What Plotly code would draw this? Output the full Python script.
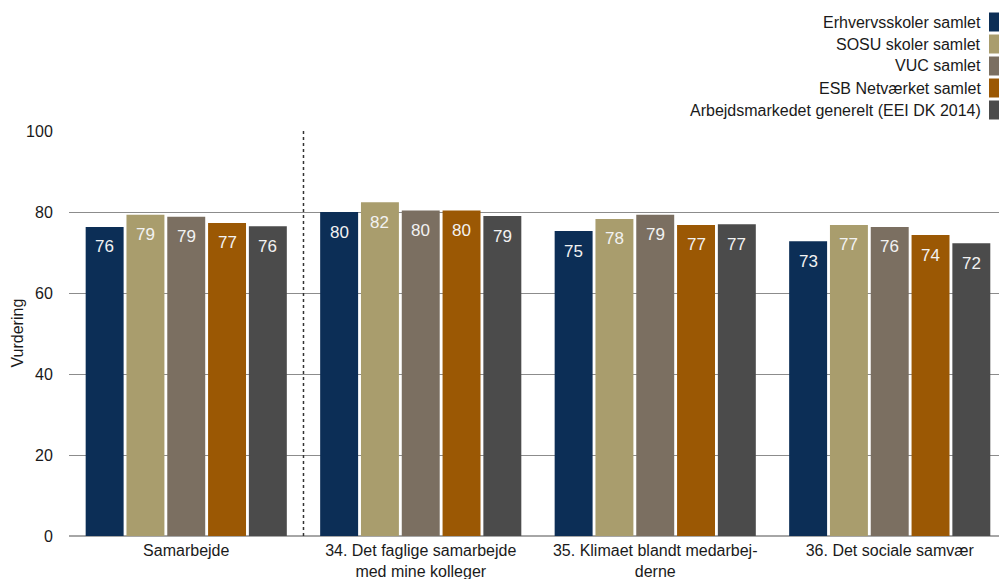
import plotly.graph_objects as go

categories = ["Samarbejde", "34. Det faglige samarbejde<br>med mine kolleger",
              "35. Klimaet blandt medarbej-<br>derne", "36. Det sociale samvær"]
series_names = ["Erhvervsskoler samlet", "SOSU skoler samlet", "VUC samlet",
                "ESB Netværket samlet", "Arbejdsmarkedet generelt (EEI DK 2014)"]
erhverv = [76.3, 80.0, 75.3, 72.8]
sosu = [79.3, 82.4, 78.3, 76.8]
vuc = [78.8, 80.4, 79.3, 76.3]
esb = [77.3, 80.4, 76.8, 74.3]
arbejds = [76.5, 79.0, 77.0, 72.3]
y_ticks = [0, 20, 40, 60, 80, 100]

series_values = [erhverv, sosu, vuc, esb, arbejds]
colors = ["#0C2E56", "#A99D6D", "#7B6F61", "#9B5804", "#4B4B4B"]

FONT = "Liberation Sans, Arial, sans-serif"
W, H = 999, 579
L, R, T, B = 69, 0, 131, 43
plot_w = W - L - R
plot_h = H - T - B

fig = go.Figure()
for name, vals, col in zip(series_names, series_values, colors):
    fig.add_trace(go.Bar(name=name, x=list(range(len(categories))), y=vals,
                         marker=dict(color=col, line=dict(width=0)),
                         showlegend=False))

# value labels inside bar tops
n = len(series_values)
cat_px = plot_w / 3.966
slot_px = cat_px * 0.87 / n
for i, vals in enumerate(series_values):
    for j, v in enumerate(vals):
        fig.add_annotation(x=j, y=v, xref="x", yref="y", text=f"{v:.0f}",
                           showarrow=False, xshift=(i - (n - 1) / 2) * slot_px,
                           yshift=-20, font=dict(family=FONT, size=17, color="#F2F2F2"))

# legend (text right, swatch at right edge)
leg_y = [22, 44, 66, 88, 110]
for name, col, yy in zip(series_names, colors, leg_y):
    py = (H - B - yy) / plot_h
    fig.add_annotation(x=(983 - L) / plot_w, y=py, xref="paper", yref="paper",
                       text=name, showarrow=False, xanchor="right", yanchor="middle",
                       font=dict(family=FONT, size=16, color="#1a1a1a"))
    fig.add_shape(type="rect", xref="paper", yref="paper",
                  x0=(989 - L) / plot_w, x1=(1008 - L) / plot_w,
                  y0=py - 9.5 / plot_h, y1=py + 9.5 / plot_h,
                  fillcolor=col, line=dict(width=0))

# dotted separator
fig.add_shape(type="line", xref="x", yref="y", x0=0.5, x1=0.5, y0=0, y1=100,
              line=dict(color="#333333", width=1.5, dash="dot"))

# y-axis title
fig.add_annotation(x=(17 - L) / plot_w, y=0.5, xref="paper", yref="paper",
                   xanchor="center", yanchor="middle",
                   text="Vurdering", textangle=-90, showarrow=False,
                   font=dict(family=FONT, size=16, color="#1a1a1a"))

fig.update_layout(
    width=W, height=H, margin=dict(l=L, r=R, t=T, b=B, pad=0, autoexpand=False),
    plot_bgcolor="white", paper_bgcolor="white",
    barmode="group", bargap=0.13, bargroupgap=0.07,
    font=dict(family=FONT, size=16, color="#1a1a1a"),
)
fig.update_xaxes(tickmode="array", tickvals=list(range(len(categories))),
                 ticktext=categories, range=[-0.5, 3.466], showgrid=False,
                 zeroline=False, showline=False, ticks="", tickangle=0, automargin=False,
                 ticklabelstandoff=3,
                 tickfont=dict(family=FONT, size=16, color="#1a1a1a"))
fig.update_yaxes(range=[0, 100], tickvals=y_ticks, showgrid=True, gridcolor="#8C8C8C",
                 gridwidth=1, zeroline=True, zerolinecolor="#A6A6A6", zerolinewidth=2,
                 ticks="outside", ticklen=12, tickcolor="rgba(0,0,0,0)", automargin=False,
                 tickfont=dict(family=FONT, size=16, color="#1a1a1a"))

fig.write_html("out.html", config={"displayModeBar": False},
               post_script="document.body.style.margin='0';")
